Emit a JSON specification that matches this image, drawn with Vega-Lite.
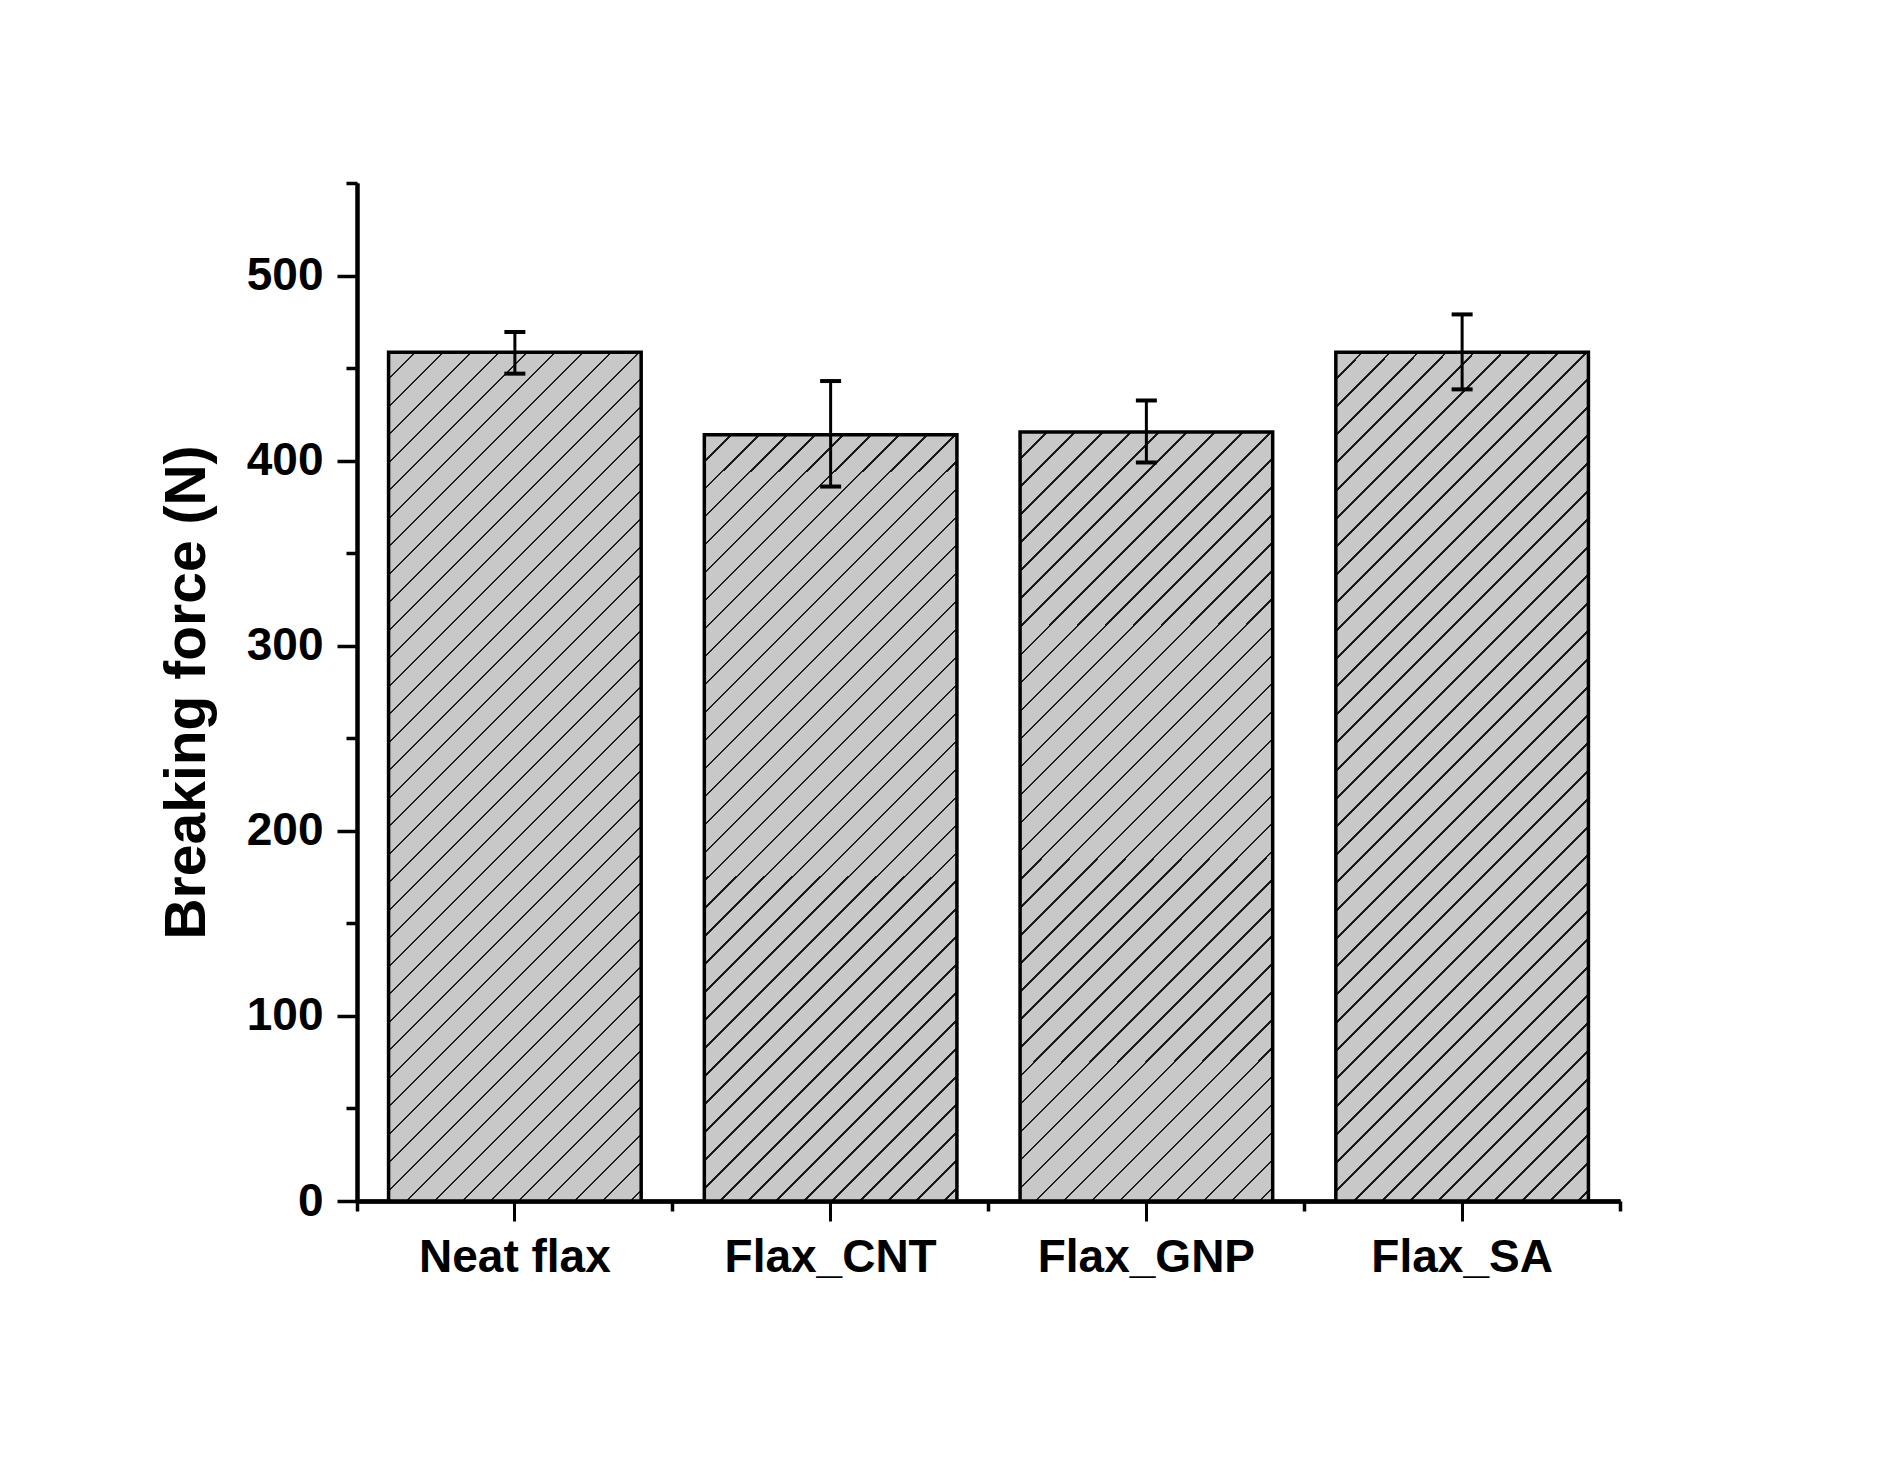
{
  "$schema": "https://vega.github.io/schema/vega-lite/v6.json",
  "width": 1263,
  "height": 1018,
  "autosize": {"type": "none"},
  "padding": {"left": 357, "top": 183, "right": 279, "bottom": 262},
  "background": "white",
  "config": {
    "view": {"stroke": null},
    "axis": {
      "grid": false,
      "domainColor": "black",
      "tickColor": "black",
      "labelColor": "black",
      "titleColor": "black",
      "labelFont": "Liberation Sans",
      "titleFont": "Liberation Sans",
      "labelFontWeight": "bold",
      "titleFontWeight": "bold",
      "domainWidth": 4
    }
  },
  "data": {
    "values": [
      {"label": "Neat flax", "value": 458.5, "lo": 447, "hi": 469.5},
      {"label": "Flax_CNT", "value": 414, "lo": 386, "hi": 443},
      {"label": "Flax_GNP", "value": 415.5, "lo": 399, "hi": 432.5},
      {"label": "Flax_SA", "value": 458.6, "lo": 438.5, "hi": 479}
    ]
  },
  "resolve": {"axis": {"x": "independent", "y": "independent"}},
  "layer": [
    {
      "mark": {"type": "bar", "stroke": "black", "strokeWidth": 3.5},
      "encoding": {
        "x": {
          "field": "label", "type": "nominal", "sort": null,
          "scale": {"paddingInner": 0.2, "paddingOuter": 0.1},
          "axis": {"title": null, "labelAngle": 0, "labelFontSize": 46, "labelPadding": 14, "labelLimit": 500, "tickSize": 20, "tickWidth": 3, "orient": "bottom"}
        },
        "y": {
          "field": "value", "type": "quantitative",
          "scale": {"domain": [0, 550], "nice": false},
          "axis": {"values": [0, 100, 200, 300, 400, 500], "tickSize": 20, "tickWidth": 3.5, "labelFontSize": 46, "labelPadding": 14, "title": "Breaking force (N)", "titleFontSize": 57, "titlePadding": 30, "orient": "left"}
        },
        "fill": {
          "condition": {
            "test": "datum.value > 440",
            "value": {"gradient": "linear", "x1": 0, "y1": 0, "x2": 0.36085, "y2": 1.21234, "stops": [
{"offset":0,"color":"#c8c8c8"},{"offset":0.0228,"color":"#c8c8c8"},{"offset":0.0228,"color":"#1a1a1a"},{"offset":0.025,"color":"#1a1a1a"},
{"offset":0.025,"color":"#c8c8c8"},{"offset":0.0478,"color":"#c8c8c8"},{"offset":0.0478,"color":"#1a1a1a"},{"offset":0.05,"color":"#1a1a1a"},
{"offset":0.05,"color":"#c8c8c8"},{"offset":0.0728,"color":"#c8c8c8"},{"offset":0.0728,"color":"#1a1a1a"},{"offset":0.075,"color":"#1a1a1a"},
{"offset":0.075,"color":"#c8c8c8"},{"offset":0.0978,"color":"#c8c8c8"},{"offset":0.0978,"color":"#1a1a1a"},{"offset":0.1,"color":"#1a1a1a"},
{"offset":0.1,"color":"#c8c8c8"},{"offset":0.1228,"color":"#c8c8c8"},{"offset":0.1228,"color":"#1a1a1a"},{"offset":0.125,"color":"#1a1a1a"},
{"offset":0.125,"color":"#c8c8c8"},{"offset":0.1478,"color":"#c8c8c8"},{"offset":0.1478,"color":"#1a1a1a"},{"offset":0.15,"color":"#1a1a1a"},
{"offset":0.15,"color":"#c8c8c8"},{"offset":0.1728,"color":"#c8c8c8"},{"offset":0.1728,"color":"#1a1a1a"},{"offset":0.175,"color":"#1a1a1a"},
{"offset":0.175,"color":"#c8c8c8"},{"offset":0.1978,"color":"#c8c8c8"},{"offset":0.1978,"color":"#1a1a1a"},{"offset":0.2,"color":"#1a1a1a"},
{"offset":0.2,"color":"#c8c8c8"},{"offset":0.2228,"color":"#c8c8c8"},{"offset":0.2228,"color":"#1a1a1a"},{"offset":0.225,"color":"#1a1a1a"},
{"offset":0.225,"color":"#c8c8c8"},{"offset":0.2478,"color":"#c8c8c8"},{"offset":0.2478,"color":"#1a1a1a"},{"offset":0.25,"color":"#1a1a1a"},
{"offset":0.25,"color":"#c8c8c8"},{"offset":0.2728,"color":"#c8c8c8"},{"offset":0.2728,"color":"#1a1a1a"},{"offset":0.275,"color":"#1a1a1a"},
{"offset":0.275,"color":"#c8c8c8"},{"offset":0.2978,"color":"#c8c8c8"},{"offset":0.2978,"color":"#1a1a1a"},{"offset":0.3,"color":"#1a1a1a"},
{"offset":0.3,"color":"#c8c8c8"},{"offset":0.3228,"color":"#c8c8c8"},{"offset":0.3228,"color":"#1a1a1a"},{"offset":0.325,"color":"#1a1a1a"},
{"offset":0.325,"color":"#c8c8c8"},{"offset":0.3478,"color":"#c8c8c8"},{"offset":0.3478,"color":"#1a1a1a"},{"offset":0.35,"color":"#1a1a1a"},
{"offset":0.35,"color":"#c8c8c8"},{"offset":0.3728,"color":"#c8c8c8"},{"offset":0.3728,"color":"#1a1a1a"},{"offset":0.375,"color":"#1a1a1a"},
{"offset":0.375,"color":"#c8c8c8"},{"offset":0.3978,"color":"#c8c8c8"},{"offset":0.3978,"color":"#1a1a1a"},{"offset":0.4,"color":"#1a1a1a"},
{"offset":0.4,"color":"#c8c8c8"},{"offset":0.4228,"color":"#c8c8c8"},{"offset":0.4228,"color":"#1a1a1a"},{"offset":0.425,"color":"#1a1a1a"},
{"offset":0.425,"color":"#c8c8c8"},{"offset":0.4478,"color":"#c8c8c8"},{"offset":0.4478,"color":"#1a1a1a"},{"offset":0.45,"color":"#1a1a1a"},
{"offset":0.45,"color":"#c8c8c8"},{"offset":0.4728,"color":"#c8c8c8"},{"offset":0.4728,"color":"#1a1a1a"},{"offset":0.475,"color":"#1a1a1a"},
{"offset":0.475,"color":"#c8c8c8"},{"offset":0.4978,"color":"#c8c8c8"},{"offset":0.4978,"color":"#1a1a1a"},{"offset":0.5,"color":"#1a1a1a"},
{"offset":0.5,"color":"#c8c8c8"},{"offset":0.5228,"color":"#c8c8c8"},{"offset":0.5228,"color":"#1a1a1a"},{"offset":0.525,"color":"#1a1a1a"},
{"offset":0.525,"color":"#c8c8c8"},{"offset":0.5478,"color":"#c8c8c8"},{"offset":0.5478,"color":"#1a1a1a"},{"offset":0.55,"color":"#1a1a1a"},
{"offset":0.55,"color":"#c8c8c8"},{"offset":0.5728,"color":"#c8c8c8"},{"offset":0.5728,"color":"#1a1a1a"},{"offset":0.575,"color":"#1a1a1a"},
{"offset":0.575,"color":"#c8c8c8"},{"offset":0.5978,"color":"#c8c8c8"},{"offset":0.5978,"color":"#1a1a1a"},{"offset":0.6,"color":"#1a1a1a"},
{"offset":0.6,"color":"#c8c8c8"},{"offset":0.6228,"color":"#c8c8c8"},{"offset":0.6228,"color":"#1a1a1a"},{"offset":0.625,"color":"#1a1a1a"},
{"offset":0.625,"color":"#c8c8c8"},{"offset":0.6478,"color":"#c8c8c8"},{"offset":0.6478,"color":"#1a1a1a"},{"offset":0.65,"color":"#1a1a1a"},
{"offset":0.65,"color":"#c8c8c8"},{"offset":0.6728,"color":"#c8c8c8"},{"offset":0.6728,"color":"#1a1a1a"},{"offset":0.675,"color":"#1a1a1a"},
{"offset":0.675,"color":"#c8c8c8"},{"offset":0.6978,"color":"#c8c8c8"},{"offset":0.6978,"color":"#1a1a1a"},{"offset":0.7,"color":"#1a1a1a"},
{"offset":0.7,"color":"#c8c8c8"},{"offset":0.7228,"color":"#c8c8c8"},{"offset":0.7228,"color":"#1a1a1a"},{"offset":0.725,"color":"#1a1a1a"},
{"offset":0.725,"color":"#c8c8c8"},{"offset":0.7478,"color":"#c8c8c8"},{"offset":0.7478,"color":"#1a1a1a"},{"offset":0.75,"color":"#1a1a1a"},
{"offset":0.75,"color":"#c8c8c8"},{"offset":0.7728,"color":"#c8c8c8"},{"offset":0.7728,"color":"#1a1a1a"},{"offset":0.775,"color":"#1a1a1a"},
{"offset":0.775,"color":"#c8c8c8"},{"offset":0.7978,"color":"#c8c8c8"},{"offset":0.7978,"color":"#1a1a1a"},{"offset":0.8,"color":"#1a1a1a"},
{"offset":0.8,"color":"#c8c8c8"},{"offset":0.8228,"color":"#c8c8c8"},{"offset":0.8228,"color":"#1a1a1a"},{"offset":0.825,"color":"#1a1a1a"},
{"offset":0.825,"color":"#c8c8c8"},{"offset":0.8478,"color":"#c8c8c8"},{"offset":0.8478,"color":"#1a1a1a"},{"offset":0.85,"color":"#1a1a1a"},
{"offset":0.85,"color":"#c8c8c8"},{"offset":0.8728,"color":"#c8c8c8"},{"offset":0.8728,"color":"#1a1a1a"},{"offset":0.875,"color":"#1a1a1a"},
{"offset":0.875,"color":"#c8c8c8"},{"offset":0.8978,"color":"#c8c8c8"},{"offset":0.8978,"color":"#1a1a1a"},{"offset":0.9,"color":"#1a1a1a"},
{"offset":0.9,"color":"#c8c8c8"},{"offset":0.9228,"color":"#c8c8c8"},{"offset":0.9228,"color":"#1a1a1a"},{"offset":0.925,"color":"#1a1a1a"},
{"offset":0.925,"color":"#c8c8c8"},{"offset":0.9478,"color":"#c8c8c8"},{"offset":0.9478,"color":"#1a1a1a"},{"offset":0.95,"color":"#1a1a1a"},
{"offset":0.95,"color":"#c8c8c8"},{"offset":0.9728,"color":"#c8c8c8"},{"offset":0.9728,"color":"#1a1a1a"},{"offset":0.975,"color":"#1a1a1a"},
{"offset":0.975,"color":"#c8c8c8"},{"offset":0.9978,"color":"#c8c8c8"},{"offset":0.9978,"color":"#1a1a1a"},{"offset":1,"color":"#1a1a1a"}
            ]}
          },
          "value": {"gradient": "linear", "x1": 0, "y1": 0, "x2": 0.43355, "y2": 1.31695, "stops": [
{"offset":0,"color":"#c8c8c8"},{"offset":0.0228,"color":"#c8c8c8"},{"offset":0.0228,"color":"#1a1a1a"},{"offset":0.025,"color":"#1a1a1a"},
{"offset":0.025,"color":"#c8c8c8"},{"offset":0.0478,"color":"#c8c8c8"},{"offset":0.0478,"color":"#1a1a1a"},{"offset":0.05,"color":"#1a1a1a"},
{"offset":0.05,"color":"#c8c8c8"},{"offset":0.0728,"color":"#c8c8c8"},{"offset":0.0728,"color":"#1a1a1a"},{"offset":0.075,"color":"#1a1a1a"},
{"offset":0.075,"color":"#c8c8c8"},{"offset":0.0978,"color":"#c8c8c8"},{"offset":0.0978,"color":"#1a1a1a"},{"offset":0.1,"color":"#1a1a1a"},
{"offset":0.1,"color":"#c8c8c8"},{"offset":0.1228,"color":"#c8c8c8"},{"offset":0.1228,"color":"#1a1a1a"},{"offset":0.125,"color":"#1a1a1a"},
{"offset":0.125,"color":"#c8c8c8"},{"offset":0.1478,"color":"#c8c8c8"},{"offset":0.1478,"color":"#1a1a1a"},{"offset":0.15,"color":"#1a1a1a"},
{"offset":0.15,"color":"#c8c8c8"},{"offset":0.1728,"color":"#c8c8c8"},{"offset":0.1728,"color":"#1a1a1a"},{"offset":0.175,"color":"#1a1a1a"},
{"offset":0.175,"color":"#c8c8c8"},{"offset":0.1978,"color":"#c8c8c8"},{"offset":0.1978,"color":"#1a1a1a"},{"offset":0.2,"color":"#1a1a1a"},
{"offset":0.2,"color":"#c8c8c8"},{"offset":0.2228,"color":"#c8c8c8"},{"offset":0.2228,"color":"#1a1a1a"},{"offset":0.225,"color":"#1a1a1a"},
{"offset":0.225,"color":"#c8c8c8"},{"offset":0.2478,"color":"#c8c8c8"},{"offset":0.2478,"color":"#1a1a1a"},{"offset":0.25,"color":"#1a1a1a"},
{"offset":0.25,"color":"#c8c8c8"},{"offset":0.2728,"color":"#c8c8c8"},{"offset":0.2728,"color":"#1a1a1a"},{"offset":0.275,"color":"#1a1a1a"},
{"offset":0.275,"color":"#c8c8c8"},{"offset":0.2978,"color":"#c8c8c8"},{"offset":0.2978,"color":"#1a1a1a"},{"offset":0.3,"color":"#1a1a1a"},
{"offset":0.3,"color":"#c8c8c8"},{"offset":0.3228,"color":"#c8c8c8"},{"offset":0.3228,"color":"#1a1a1a"},{"offset":0.325,"color":"#1a1a1a"},
{"offset":0.325,"color":"#c8c8c8"},{"offset":0.3478,"color":"#c8c8c8"},{"offset":0.3478,"color":"#1a1a1a"},{"offset":0.35,"color":"#1a1a1a"},
{"offset":0.35,"color":"#c8c8c8"},{"offset":0.3728,"color":"#c8c8c8"},{"offset":0.3728,"color":"#1a1a1a"},{"offset":0.375,"color":"#1a1a1a"},
{"offset":0.375,"color":"#c8c8c8"},{"offset":0.3978,"color":"#c8c8c8"},{"offset":0.3978,"color":"#1a1a1a"},{"offset":0.4,"color":"#1a1a1a"},
{"offset":0.4,"color":"#c8c8c8"},{"offset":0.4228,"color":"#c8c8c8"},{"offset":0.4228,"color":"#1a1a1a"},{"offset":0.425,"color":"#1a1a1a"},
{"offset":0.425,"color":"#c8c8c8"},{"offset":0.4478,"color":"#c8c8c8"},{"offset":0.4478,"color":"#1a1a1a"},{"offset":0.45,"color":"#1a1a1a"},
{"offset":0.45,"color":"#c8c8c8"},{"offset":0.4728,"color":"#c8c8c8"},{"offset":0.4728,"color":"#1a1a1a"},{"offset":0.475,"color":"#1a1a1a"},
{"offset":0.475,"color":"#c8c8c8"},{"offset":0.4978,"color":"#c8c8c8"},{"offset":0.4978,"color":"#1a1a1a"},{"offset":0.5,"color":"#1a1a1a"},
{"offset":0.5,"color":"#c8c8c8"},{"offset":0.5228,"color":"#c8c8c8"},{"offset":0.5228,"color":"#1a1a1a"},{"offset":0.525,"color":"#1a1a1a"},
{"offset":0.525,"color":"#c8c8c8"},{"offset":0.5478,"color":"#c8c8c8"},{"offset":0.5478,"color":"#1a1a1a"},{"offset":0.55,"color":"#1a1a1a"},
{"offset":0.55,"color":"#c8c8c8"},{"offset":0.5728,"color":"#c8c8c8"},{"offset":0.5728,"color":"#1a1a1a"},{"offset":0.575,"color":"#1a1a1a"},
{"offset":0.575,"color":"#c8c8c8"},{"offset":0.5978,"color":"#c8c8c8"},{"offset":0.5978,"color":"#1a1a1a"},{"offset":0.6,"color":"#1a1a1a"},
{"offset":0.6,"color":"#c8c8c8"},{"offset":0.6228,"color":"#c8c8c8"},{"offset":0.6228,"color":"#1a1a1a"},{"offset":0.625,"color":"#1a1a1a"},
{"offset":0.625,"color":"#c8c8c8"},{"offset":0.6478,"color":"#c8c8c8"},{"offset":0.6478,"color":"#1a1a1a"},{"offset":0.65,"color":"#1a1a1a"},
{"offset":0.65,"color":"#c8c8c8"},{"offset":0.6728,"color":"#c8c8c8"},{"offset":0.6728,"color":"#1a1a1a"},{"offset":0.675,"color":"#1a1a1a"},
{"offset":0.675,"color":"#c8c8c8"},{"offset":0.6978,"color":"#c8c8c8"},{"offset":0.6978,"color":"#1a1a1a"},{"offset":0.7,"color":"#1a1a1a"},
{"offset":0.7,"color":"#c8c8c8"},{"offset":0.7228,"color":"#c8c8c8"},{"offset":0.7228,"color":"#1a1a1a"},{"offset":0.725,"color":"#1a1a1a"},
{"offset":0.725,"color":"#c8c8c8"},{"offset":0.7478,"color":"#c8c8c8"},{"offset":0.7478,"color":"#1a1a1a"},{"offset":0.75,"color":"#1a1a1a"},
{"offset":0.75,"color":"#c8c8c8"},{"offset":0.7728,"color":"#c8c8c8"},{"offset":0.7728,"color":"#1a1a1a"},{"offset":0.775,"color":"#1a1a1a"},
{"offset":0.775,"color":"#c8c8c8"},{"offset":0.7978,"color":"#c8c8c8"},{"offset":0.7978,"color":"#1a1a1a"},{"offset":0.8,"color":"#1a1a1a"},
{"offset":0.8,"color":"#c8c8c8"},{"offset":0.8228,"color":"#c8c8c8"},{"offset":0.8228,"color":"#1a1a1a"},{"offset":0.825,"color":"#1a1a1a"},
{"offset":0.825,"color":"#c8c8c8"},{"offset":0.8478,"color":"#c8c8c8"},{"offset":0.8478,"color":"#1a1a1a"},{"offset":0.85,"color":"#1a1a1a"},
{"offset":0.85,"color":"#c8c8c8"},{"offset":0.8728,"color":"#c8c8c8"},{"offset":0.8728,"color":"#1a1a1a"},{"offset":0.875,"color":"#1a1a1a"},
{"offset":0.875,"color":"#c8c8c8"},{"offset":0.8978,"color":"#c8c8c8"},{"offset":0.8978,"color":"#1a1a1a"},{"offset":0.9,"color":"#1a1a1a"},
{"offset":0.9,"color":"#c8c8c8"},{"offset":0.9228,"color":"#c8c8c8"},{"offset":0.9228,"color":"#1a1a1a"},{"offset":0.925,"color":"#1a1a1a"},
{"offset":0.925,"color":"#c8c8c8"},{"offset":0.9478,"color":"#c8c8c8"},{"offset":0.9478,"color":"#1a1a1a"},{"offset":0.95,"color":"#1a1a1a"},
{"offset":0.95,"color":"#c8c8c8"},{"offset":0.9728,"color":"#c8c8c8"},{"offset":0.9728,"color":"#1a1a1a"},{"offset":0.975,"color":"#1a1a1a"},
{"offset":0.975,"color":"#c8c8c8"},{"offset":0.9978,"color":"#c8c8c8"},{"offset":0.9978,"color":"#1a1a1a"},{"offset":1,"color":"#1a1a1a"}
          ]}
        }
      }
    },
    {
      "mark": {"type": "rule", "color": "black", "strokeWidth": 3},
      "encoding": {
        "x": {"field": "label", "type": "nominal", "sort": null, "axis": {"title": null, "labels": false, "bandPosition": -0.125, "tickSize": 10, "tickWidth": 3.5, "orient": "bottom"}},
        "y": {"field": "lo", "type": "quantitative", "axis": {"values": [50, 150, 250, 350, 450, 550], "labels": false, "title": null, "tickSize": 11, "tickWidth": 3.5, "orient": "left"}},
        "y2": {"field": "hi"}
      }
    },
    {
      "mark": {"type": "tick", "color": "black", "thickness": 4, "size": 21, "opacity": 1},
      "encoding": {
        "x": {"field": "label", "type": "nominal", "sort": null, "axis": {"title": null, "labels": false, "values": ["Flax_SA"], "bandPosition": 1.125, "tickSize": 10, "tickWidth": 3.5, "orient": "bottom"}},
        "y": {"field": "lo", "type": "quantitative", "axis": null}
      }
    },
    {
      "mark": {"type": "tick", "color": "black", "thickness": 4, "size": 21, "opacity": 1},
      "encoding": {
        "x": {"field": "label", "type": "nominal", "sort": null, "axis": null},
        "y": {"field": "hi", "type": "quantitative", "axis": null}
      }
    }
  ]
}
